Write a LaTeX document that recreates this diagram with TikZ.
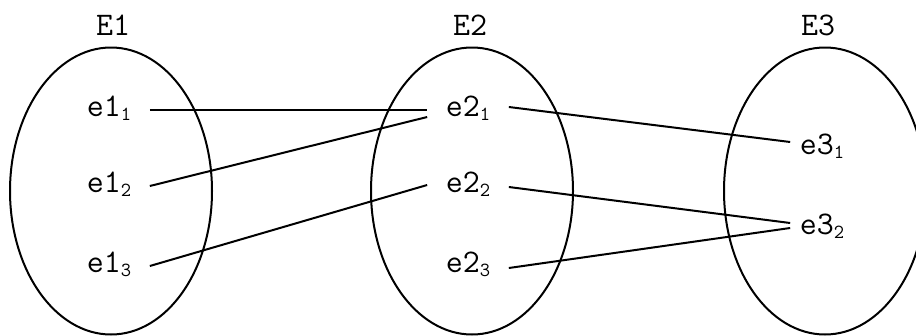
\documentclass[tikz,border=0pt]{standalone}
\usepackage{fontspec}
\usetikzlibrary{shapes.geometric}
\newcommand{\elsub}[1]{\raisebox{-0.12em}{\fontsize{20}{20}\selectfont #1}}
\begin{document}
\begin{tikzpicture}[x=1pt,y=-1pt,
  setshape/.style={draw, line width=2pt, ellipse, minimum width=202pt, minimum height=287pt, inner sep=0pt, outer sep=0pt},
  setname/.style={font=\ttfamily\fontsize{33}{33}\selectfont, inner sep=0pt},
  elem/.style={font=\ttfamily\fontsize{33}{33}\selectfont, inner xsep=18.5pt, inner ysep=2pt},
  elemr/.style={elem, inner xsep=9.5pt},
  link/.style={line width=2pt}]
\useasboundingbox (0,0) rectangle (916,335);
\node[setshape] (S1) at (111,191) {};
\node[setshape] (S2) at (472,191) {};
\node[setshape] (S3) at (825,191) {};
\node[setname] (E1) at (113,25) {E1};
\node[setname] (E2) at (470,25) {E2};
\node[setname] (E3) at (818,25) {E3};
\node[elem] (e11) at (109,108) {e1\elsub{1}};
\node[elem] (e12) at (109,184) {e1\elsub{2}};
\node[elem] (e13) at (109,264) {e1\elsub{3}};
\node[elem] (e21) at (468,108) {e2\elsub{1}};
\node[elem] (e22) at (468,184) {e2\elsub{2}};
\node[elem] (e23) at (468,264) {e2\elsub{3}};
\node[elemr] (e31) at (822,146) {e3\elsub{1}};
\node[elemr] (e32) at (822,226) {e3\elsub{2}};
\draw[link] ([yshift=-2pt]e11.east) -- ([yshift=-2pt]e21.west);
\draw[link] ([yshift=-2pt]e12.east) -- ([yshift=-9pt]e21.west);
\draw[link] ([yshift=-2pt]e13.east) -- ([yshift=-1pt]e22.west);
\draw[link] ([yshift=1pt]e21.east) -- ([yshift=4pt]e31.west);
\draw[link] ([yshift=-3pt]e22.east) -- ([yshift=3pt]e32.west);
\draw[link] ([yshift=-4pt]e23.east) -- ([yshift=-2pt]e32.west);
\end{tikzpicture}
\end{document}
